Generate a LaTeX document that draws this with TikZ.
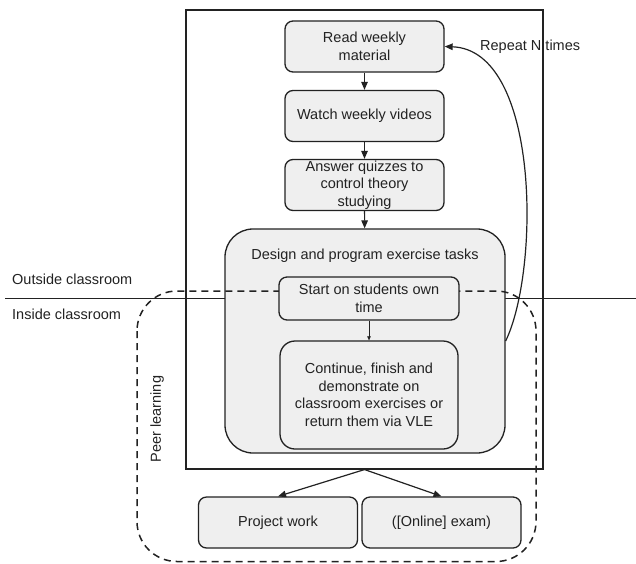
\documentclass[tikz,border=0pt]{standalone}
\usepackage{fontspec}
\setmainfont{Liberation Sans}
\usetikzlibrary{arrows.meta}
\definecolor{boxfill}{HTML}{EFEFEF}
\definecolor{edge}{HTML}{222222}
\begin{document}
\begin{tikzpicture}[x=1pt,y=-1pt,
  every node/.style={font=\fontsize{14.5}{17.5}\selectfont, inner sep=0pt, align=center, text=edge},
  stepbox/.style={draw=edge, line width=1.3pt, fill=boxfill, rounded corners=8pt, minimum width=159pt, minimum height=51pt},
  bigbox/.style={draw=edge, line width=1.3pt, fill=boxfill, rounded corners=28pt, minimum width=280pt, minimum height=224pt},
  framebox/.style={draw=edge, line width=1.1pt, minimum width=357pt, minimum height=459pt},
  arr/.style={draw=edge, line width=1.2pt, -{Triangle[length=8pt,width=6.5pt]}},
  thinarr/.style={draw=edge, line width=0.6pt, -{Triangle[length=4pt,width=3.5pt]}},
  peer/.style={draw=edge, line width=1.5pt, dash pattern=on 7pt off 5pt, rounded corners=40pt}
]
\useasboundingbox (0,0) rectangle (636,563);
% labels
\node[anchor=west] (repeat) at (480,46.5) {Repeat N times};
\node[anchor=west] (outside) at (12,279) {Outside classroom};
\node[anchor=west] (inside) at (12,314) {Inside classroom};
% outer frame
\node[framebox] (frame) at (364.5,239.5) {};
% divider line
\coordinate (l1) at (5,298.7);
\coordinate (l2) at (636,298.7);
\draw[draw=edge, line width=1.2pt] (l1) -- (l2);
% big box
\node[bigbox] (design) at (365,341) {};
\node (designlbl) at (365,256) {Design and program exercise tasks};
% peer learning dashed region
\coordinate (p1) at (137,291);
\coordinate (p2) at (536,561.5);
\draw[peer] (p1) rectangle (p2);
\node[rotate=90] (peerlbl) at (157,419) {Peer learning};
% step boxes
\node[stepbox] (read) at (364.5,46.5) {Read weekly\\material};
\node[stepbox] (watch) at (364.5,116) {Watch weekly videos};
\node[stepbox] (answer) at (364.5,185) {Answer quizzes to\\control theory\\studying};
\node[stepbox, minimum width=180pt, minimum height=43pt] (start) at (369,298.5) {Start on students own\\time};
\node[stepbox, rounded corners=15pt, minimum width=178pt, minimum height=108pt] (cont) at (369,395) {Continue, finish and\\demonstrate on\\classroom exercises or\\return them via VLE};
\node[stepbox] (project) at (278,522.5) {Project work};
\node[stepbox] (exam) at (441.5,522.5) {([Online] exam)};
% connectors
\draw[arr] (read) -- (watch);
\draw[arr] (watch) -- (answer);
\draw[arr] (answer) -- (design);
\draw[thinarr] (start) -- (cont);
\draw[arr] (frame.south) -- (project.north);
\draw[arr] (frame.south) -- (exam.north);
\draw[arr] (design.east) .. controls (540,270) and (540,50) .. (read.east);
\end{tikzpicture}
\end{document}
